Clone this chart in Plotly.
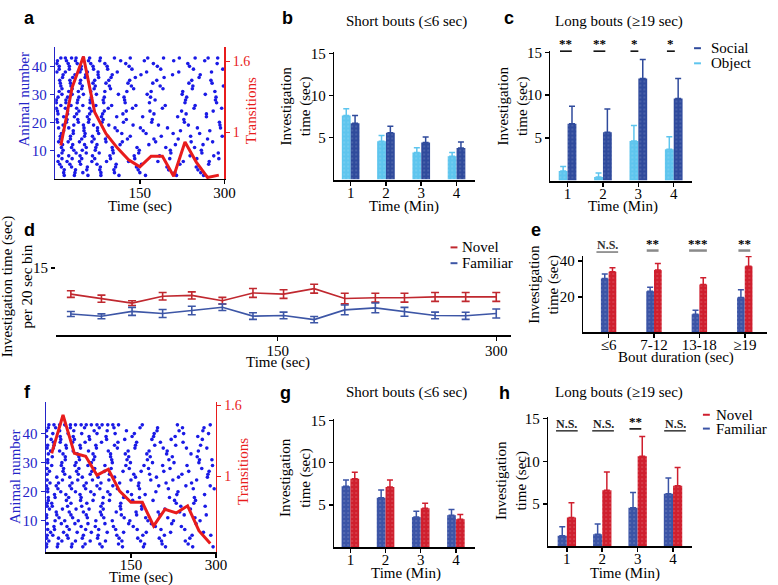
import plotly.graph_objects as go

W, H = 778, 585
def fx(p): return p / W
def fy(p): return 1 - p / H

SERIF = "Liberation Serif, Times New Roman, serif"
SANS = "Liberation Sans, Arial, sans-serif"
DOT = "#1a1ae6"
RAX = "#2424c8"
TRED = "#e81c1c"
OBJ = "#5ec5ee"
SOC = "#2f4a9c"
FAM = "#3b54a6"
NOV = "#cf1f2e"
NOV_LINE = "#c0282f"
FAM_LINE = "#3d56a6"

# ---------------- data ----------------
bins_sec = [10, 30, 50, 70, 90, 110, 130, 150, 170, 190, 210, 230, 250, 270, 290]
trans_a = [0.89, 1.38, 1.64, 1.17, 0.99, 0.87, 0.77, 0.71, 0.80, 0.80, 0.63, 0.92, 0.75, 0.62, 0.64]
trans_f = [1.195, 1.52, 1.195, 1.17, 1.01, 1.06, 0.875, 0.78, 0.78, 0.58, 0.72, 0.69, 0.75, 0.54, 0.43]

# event times per list; animal id of each list given in *_animal
raster_a = [
    [5, 22, 38, 61, 84, 120, 175, 232, 268],
    [12, 30, 47, 70, 98, 141, 203, 251, 290],
    [3, 18, 44, 57, 76, 110, 162, 219, 277],
    [9, 27, 52, 66, 93, 133, 188, 240, 296],
    [15, 35, 49, 81, 105, 150, 212, 258],
    [7, 24, 41, 63, 88, 127, 170, 226, 283],
    [11, 29, 55, 72, 101, 145, 196, 247],
    [4, 20, 36, 59, 79, 116, 158, 210, 265],
    [14, 33, 50, 68, 95, 138, 183, 236, 292],
    [8, 26, 45, 74, 108, 153, 221, 272],
    [2, 19, 39, 62, 86, 124, 167, 230, 286],
    [13, 31, 53, 77, 99, 142, 193, 255],
    [6, 23, 43, 65, 90, 119, 178, 241, 279],
    [16, 34, 58, 81, 113, 160, 215, 263],
    [10, 28, 48, 71, 96, 135, 186, 244, 298],
    [3, 21, 40, 60, 85, 126, 172, 228],
    [12, 37, 55, 78, 103, 148, 205, 260, 289],
    [7, 25, 46, 67, 92, 131, 181, 238],
    [15, 32, 51, 75, 110, 156, 222, 274],
    [5, 22, 42, 64, 87, 122, 169, 233, 285],
    [11, 29, 57, 80, 107, 144, 198, 250],
    [2, 18, 38, 61, 94, 137, 190, 246, 295],
    [9, 27, 47, 69, 89, 128, 175, 218, 270],
    [14, 35, 54, 76, 101, 152, 208, 257],
    [6, 24, 44, 66, 97, 140, 185, 239, 281],
    [12, 30, 50, 73, 112, 163, 225, 266],
    [4, 20, 41, 59, 83, 121, 171, 229, 291],
    [16, 36, 56, 79, 104, 147, 201, 253],
    [8, 26, 45, 70, 95, 132, 180, 242, 276],
    [13, 31, 52, 74, 115, 166, 213, 262],
    [3, 23, 39, 63, 88, 125, 174, 235, 287],
    [10, 28, 49, 72, 100, 143, 195, 248],
    [5, 21, 43, 65, 91, 130, 182, 227, 273],
    [15, 34, 57, 82, 109, 155, 217, 268],
    [7, 25, 46, 68, 93, 136, 187, 245, 297],
    [11, 32, 53, 77, 118, 161, 209, 256],
    [2, 19, 40, 62, 85, 123, 177, 231, 284],
    [14, 33, 48, 71, 102, 149, 204, 259],
    [9, 27, 44, 67, 90, 129, 173, 237, 278],
    [6, 24, 51, 75, 106, 151, 199, 252, 293],
    [12, 30, 47, 69, 98, 139, 191, 243],
    [4, 22, 42, 64, 87, 126, 168, 224, 280],
    [10, 18, 29, 37, 50, 61, 80, 105, 133, 164, 192, 220, 248, 271, 288],
]
raster_a_animal = [23, 7, 38, 15, 2, 31, 11, 42, 19, 5, 27, 36, 13, 1, 33, 21, 9, 40, 17, 29, 4, 25,
                   14, 37, 8, 30, 20, 3, 35, 12, 41, 26, 6, 22, 39, 16, 28, 10, 34, 18, 32, 24, 43]

raster_f = [
    [1, 19, 44, 71, 98, 133, 160, 201, 244, 283],
    [3, 28, 53, 80, 117, 149, 188, 226, 270],
    [2, 12, 37, 66, 92, 125, 171, 209, 258, 291],
    [1, 24, 49, 85, 108, 142, 196, 235, 277],
    [4, 16, 40, 62, 101, 137, 165, 218, 262],
    [2, 33, 57, 78, 112, 155, 183, 240, 286],
    [1, 21, 46, 69, 95, 128, 174, 205, 251],
    [3, 14, 35, 60, 88, 121, 158, 192, 229, 273],
    [2, 27, 51, 74, 104, 146, 186, 222, 265],
    [1, 18, 42, 67, 90, 118, 163, 199, 247, 290],
    [4, 30, 55, 83, 114, 140, 178, 213, 256],
    [2, 11, 38, 63, 97, 131, 169, 238, 281],
    [1, 25, 48, 76, 106, 152, 190, 228, 268],
    [3, 15, 41, 70, 93, 123, 161, 203, 245],
    [2, 31, 58, 86, 115, 147, 181, 219, 275],
    [1, 20, 45, 65, 99, 135, 172, 211, 259, 295],
    [3, 26, 52, 79, 109, 144, 194, 233],
    [2, 13, 36, 61, 89, 126, 157, 207, 248, 284],
    [1, 23, 47, 73, 102, 138, 176, 215, 263],
    [4, 17, 43, 68, 94, 120, 166, 197, 241, 279],
    [2, 29, 56, 82, 111, 150, 185, 224, 266],
    [1, 22, 39, 64, 91, 129, 162, 200, 254],
    [3, 34, 59, 84, 116, 143, 179, 217, 271, 293],
    [2, 10, 44, 72, 100, 132, 170, 230, 261],
    [9, 26, 50, 77, 107, 139, 187, 221, 276],
    [14, 37, 62, 87, 119, 154, 193, 239],
    [6, 30, 54, 81, 103, 136, 168, 208, 252, 288],
    [18, 41, 66, 96, 124, 159, 198, 236],
    [8, 24, 48, 75, 110, 145, 182, 214, 269],
    [15, 35, 60, 85, 113, 151, 175, 231, 280],
    [5, 28, 52, 78, 105, 134, 167, 204, 246],
    [12, 39, 63, 90, 122, 156, 191, 243, 287],
    [7, 22, 46, 71, 97, 130, 164, 212, 257],
    [16, 33, 57, 88, 117, 148, 180, 225, 272],
    [10, 27, 51, 74, 104, 141, 173, 206, 249, 294],
    [4, 36, 61, 83, 112, 153, 189, 227, 264],
    [13, 25, 47, 69, 98, 127, 160, 202, 242],
    [8, 31, 55, 80, 108, 137, 177, 220, 278],
    [19, 42, 64, 92, 121, 158, 195, 234, 285],
    [6, 29, 53, 76, 101, 132, 169, 210, 255],
    [11, 34, 58, 86, 114, 146, 184, 223, 267],
    [3, 21, 45, 70, 95, 126, 165, 216, 260, 297],
    [5, 14, 24, 33, 43, 52, 62, 71, 80, 90, 99, 109, 118, 128, 170, 232, 290],
]
raster_f_animal = [12, 30, 5, 41, 18, 26, 2, 36, 9, 22, 33, 15, 39, 7, 28, 1, 20, 35, 11, 42, 24, 4,
                   31, 16, 38, 8, 27, 13, 34, 19, 3, 40, 23, 10, 29, 17, 37, 6, 25, 14, 32, 21, 43]

minutes = [1, 2, 3, 4]
b_object = [7.6, 4.55, 3.23, 2.76]
b_object_err = [0.8, 0.7, 0.54, 0.47]
b_social = [6.7, 5.56, 4.4, 3.74]
b_social_err = [0.9, 0.78, 0.66, 0.73]

c_object = [1.12, 0.42, 4.63, 3.67]
c_object_err = [0.54, 0.47, 1.82, 1.47]
c_social = [6.64, 5.64, 11.93, 9.61]
c_social_err = [2.05, 2.74, 2.24, 2.32]
c_sig = ["**", "**", "*", "*"]

d_time = [8, 29, 50, 71, 91, 112, 133, 154, 175, 196, 217, 237, 258, 279, 300]
d_novel = [9.09, 8.06, 7.06, 8.61, 8.8, 7.61, 9.35, 9.09, 10.31, 8.09, 8.28, 8.28, 8.46, 8.46, 8.46]
d_novel_err = [0.74, 0.8, 0.55, 0.85, 0.8, 0.74, 1.0, 0.96, 1.0, 1.2, 1.0, 1.0, 1.0, 1.0, 1.0]
d_fam = [4.62, 4.1, 5.21, 4.73, 5.4, 6.13, 4.14, 4.29, 3.36, 5.54, 5.99, 5.1, 4.29, 4.21, 4.73]
d_fam_err = [0.55, 0.55, 0.9, 0.9, 0.96, 0.74, 0.74, 0.74, 0.7, 1.1, 1.1, 1.0, 0.74, 0.8, 1.0]

bout_bins = ["≤6", "7-12", "13-18", "≥19"]
e_fam = [30.2, 23.1, 10.2, 19.6]
e_fam_err = [2.6, 2.3, 2.2, 4.3]
e_nov = [34.1, 35.0, 26.9, 37.2]
e_nov_err = [2.2, 3.7, 3.8, 5.4]
e_sig = ["N.S.", "**", "***", "**"]

g_fam = [7.2, 5.84, 3.58, 3.77]
g_fam_err = [0.74, 0.93, 0.66, 0.67]
g_nov = [8.1, 7.12, 4.59, 3.31]
g_nov_err = [0.77, 0.82, 0.59, 0.54]

h_fam = [1.27, 1.43, 4.56, 6.2]
h_fam_err = [1.05, 1.2, 1.77, 1.83]
h_nov = [3.4, 6.6, 10.6, 7.14]
h_nov_err = [1.74, 2.13, 2.3, 2.13]
h_sig = ["N.S.", "N.S.", "**", "N.S."]

# ---------------- figure ----------------
fig = go.Figure()

def rows_to_xy(rows, animals):
    xs, ys = [], []
    for r, a in zip(rows, animals):
        xs += r
        ys += [a] * len(r)
    return xs, ys

for rows, animals, trans, xa, ya, ya2 in [(raster_a, raster_a_animal, trans_a, "x", "y", "y2"),
                                          (raster_f, raster_f_animal, trans_f, "x6", "y7", "y8")]:
    xs, ys = rows_to_xy(rows, animals)
    fig.add_trace(go.Scatter(x=xs, y=ys, mode="markers", marker=dict(size=3.6, color=DOT),
                             xaxis=xa, yaxis=ya, showlegend=False, hoverinfo="skip"))
    fig.add_trace(go.Scatter(x=bins_sec, y=trans, mode="lines", line=dict(color=TRED, width=3),
                             xaxis=xa, yaxis=ya2, showlegend=False))

def bar(xax, yax, cats, vals, errs, color, left, width):
    return go.Bar(x=cats, y=vals, width=width, offset=(-width if left else 0.0),
                  marker=dict(color=color, line=dict(width=0),
                              pattern=dict(shape=".", fgcolor="rgba(255,255,255,0.6)", size=4, solidity=0.12)),
                  error_y=dict(type="data", array=errs, arrayminus=[0] * len(errs), symmetric=False,
                               color=color, thickness=1.5, width=3),
                  xaxis=xax, yaxis=yax, showlegend=False)

fig.add_trace(bar("x2", "y3", minutes, b_object, b_object_err, OBJ, True, 0.25))
fig.add_trace(bar("x2", "y3", minutes, b_social, b_social_err, SOC, False, 0.25))
fig.add_trace(bar("x3", "y4", minutes, c_object, c_object_err, OBJ, True, 0.25))
fig.add_trace(bar("x3", "y4", minutes, c_social, c_social_err, SOC, False, 0.25))
ecats = [1, 2, 3, 4]
fig.add_trace(bar("x5", "y6", ecats, e_fam, e_fam_err, FAM, True, 0.17))
fig.add_trace(bar("x5", "y6", ecats, e_nov, e_nov_err, NOV, False, 0.17))
fig.add_trace(bar("x7", "y9", minutes, g_fam, g_fam_err, FAM, True, 0.25))
fig.add_trace(bar("x7", "y9", minutes, g_nov, g_nov_err, NOV, False, 0.25))
fig.add_trace(bar("x8", "y10", minutes, h_fam, h_fam_err, FAM, True, 0.26))
fig.add_trace(bar("x8", "y10", minutes, h_nov, h_nov_err, NOV, False, 0.26))

for vals, errs, col in [(d_novel, d_novel_err, NOV_LINE), (d_fam, d_fam_err, FAM_LINE)]:
    fig.add_trace(go.Scatter(x=d_time, y=vals, mode="lines", line=dict(color=col, width=1.6),
                             error_y=dict(type="data", array=errs, color=col, thickness=1.6, width=4),
                             xaxis="x4", yaxis="y5", showlegend=False))

def ax(domain, rng, tickvals, anchor, ticktext=None, color="black", lw=1.5, showline=True, fsize=15, **kw):
    d = dict(domain=domain, range=rng, tickvals=tickvals, anchor=anchor, showgrid=False, zeroline=False,
             showline=showline, linecolor=color, linewidth=lw, ticks="outside", ticklen=4, tickwidth=1.5,
             tickcolor=color, tickfont=dict(family=SERIF, size=fsize, color=color), fixedrange=True)
    if ticktext is not None:
        d["ticktext"] = ticktext
    d.update(kw)
    return d

layout = dict(
    width=W, height=H, margin=dict(l=0, r=0, t=0, b=0), paper_bgcolor="white", plot_bgcolor="rgba(0,0,0,0)",
    barmode="overlay", showlegend=False,
    # a
    xaxis=ax([fx(56), fx(227.7)], [0, 300], [150, 300], "y", ticklabelstandoff=-4),
    yaxis=ax([fy(174), fy(40)], [-0.25, 47.1], [10, 20, 30, 40], "x", color=RAX),
    yaxis2=ax(None, [0.608, 1.725], [1, 1.6], "x", ticktext=["1", "1.6"], color=TRED, overlaying="y",
              side="right", fsize=14),
    # b
    xaxis2=ax([fx(339), fx(481.7)], [0.534, 4.52], minutes, "y3", lw=2, ticklabelstandoff=-6),
    yaxis3=ax([fy(174.7), fy(46)], [0, 15.1], [5, 10, 15], "x2"),
    # c
    xaxis3=ax([fx(558.3), fx(701.7)], [0.515, 4.51], minutes, "y4", lw=2, ticklabelstandoff=-6),
    yaxis4=ax([fy(175.7), fy(45)], [0, 15.1], [5, 10, 15], "x3"),
    # d
    xaxis4=ax([fx(56.8), fx(518.3)], [-2.2, 310.1], [150, 300], "y5", lw=2, ticklabelstandoff=-3),
    yaxis5=ax([fy(331.5), fy(250)], [0, 18.1], [15], "x4", showline=False),
    # e
    xaxis5=ax([fx(591.7), fx(778)], [0.443, 4.49], ecats, "y6", ticktext=bout_bins, lw=2, ticklabelstandoff=-6),
    yaxis6=ax([fy(329.3), fy(252)], [0, 42.9], [20, 40], "x5"),
    # f
    xaxis6=ax([fx(46.7), fx(219)], [0, 300], [150, 300], "y7", ticklabelstandoff=-6),
    yaxis7=ax([fy(551.7), fy(400)], [-0.8, 50.8], [10, 20, 30, 40], "x6", color=RAX),
    yaxis8=ax(None, [0.358, 1.628], [1, 1.6], "x6", ticktext=["1", "1.6"], color=TRED, overlaying="y7",
              side="right", fsize=14),
    # g
    xaxis7=ax([fx(339), fx(481.7)], [0.54, 4.54], minutes, "y9", lw=2, ticklabelstandoff=-6),
    yaxis9=ax([fy(546.7), fy(417)], [0, 15.15], [5, 10, 15], "x7"),
    # h
    xaxis8=ax([fx(556), fx(701.7)], [0.471, 4.53], minutes, "y10", lw=2, ticklabelstandoff=-6),
    yaxis10=ax([fy(546), fy(415)], [0, 15.2], [5, 10, 15], "x8"),
)
for k in ("yaxis2", "yaxis8"):
    layout[k].pop("domain")

ann = []
shapes = []
def txt(x, y, s, size=15, color="black", angle=0, family=SERIF, xanchor="center"):
    ann.append(dict(x=fx(x), y=fy(y), xref="paper", yref="paper", text=s, showarrow=False,
                    font=dict(family=family, size=size, color=color), textangle=angle,
                    xanchor=xanchor, yanchor="middle"))
def seg(x0, x1, y, color="black", w=1.5):
    shapes.append(dict(type="line", xref="paper", yref="paper", x0=fx(x0), x1=fx(x1), y0=fy(y), y1=fy(y),
                       line=dict(color=color, width=w)))

# panel letters
for L, x, y in [("a", 30, 11), ("b", 292, 11), ("c", 516, 11), ("d", 30, 226), ("e", 544, 226),
                ("f", 28, 390), ("g", 290, 391), ("h", 512, 391)]:
    txt(x, y, "<b>%s</b>" % L, size=18, family=SANS)

# titles
txt(412, 15, "Short bouts (≤6 sec)")
txt(628, 15, "Long bouts (≥19 sec)")
txt(412, 390, "Short bouts (≤6 sec)")
txt(628, 390, "Long bouts (≥19 sec)")

# axis titles
INV = "Investigation<br>time (sec)"
txt(24, 93, "Animal number", color=RAX, angle=-90)
txt(254, 105, "Transitions", color=TRED, angle=-90)
txt(141.7, 202, "Time (sec)")
txt(301, 100, INV, angle=-90)
txt(410, 202, "Time (Min)")
txt(521, 100, INV, angle=-90)
txt(632, 202, "Time (Min)")
txt(17, 283, "Investigation time (sec)<br>per 20 sec bin", angle=-90)
txt(281.7, 360, "Time (sec)")
txt(552, 281, INV, angle=-90)
txt(685.8, 355, "Bout duration (sec)")
txt(16, 475, "Animal number", color=RAX, angle=-90)
txt(247, 470, "Transitions", color=TRED, angle=-90)
txt(143, 577, "Time (sec)")
txt(300, 476, INV, angle=-90)
txt(411.7, 573, "Time (Min)")
txt(519, 479, INV, angle=-90)
txt(634, 573, "Time (Min)")

# legends
def legend_item(xd, xt, y, color, label):
    seg(xd, xd + 7, y, color=color, w=2)
    txt(xt, y, label, xanchor="left")
legend_item(704, 719, 41.7, SOC, "Social")
legend_item(704, 719, 57, OBJ, "Object")
legend_item(457, 467, 243.3, NOV_LINE, "Novel")
legend_item(457, 467, 259.3, FAM_LINE, "Familiar")
legend_item(713, 724, 412.7, NOV, "Novel")
legend_item(713, 724, 426.7, FAM, "Familiar")

# significance marks
c_x = [574, 608, 643.5, 680.5]
for s, x in zip(c_sig, c_x):
    txt(x, 37, "<b>%s</b>" % s, size=13)
    hw = 6 if len(s) == 2 else 4
    seg(x - hw, x + hw, 44.7, w=1.5)

e_x = [616, 662, 708, 755]
for s, x in zip(e_sig, e_x):
    if s == "N.S.":
        txt(x, 241, "<b>N.S.</b>", size=12, color="#333333")
        seg(x - 11, x + 11, 248, color="#555555", w=1.2)
    else:
        txt(x, 239, "<b>%s</b>" % s, size=13)
        hw = 6 + 3 * (len(s) - 2)
        seg(x - hw, x + hw, 246.5, color="#8a8a8a", w=2.5)

h_x = [575, 611.7, 644.5, 684.7]
for s, x in zip(h_sig, h_x):
    if s == "N.S.":
        txt(x, 422, "<b>N.S.</b>", size=12, color="#222222")
        seg(x - 11, x + 11, 429, w=1.2)
    else:
        txt(x, 420, "<b>%s</b>" % s, size=13)
        seg(x - 6, x + 6, 427, w=1.5)

layout["annotations"] = ann
layout["shapes"] = shapes
fig.update_layout(**layout)
fig.write_html("out.html", config={"displayModeBar": False, "staticPlot": True},
               post_script="document.body.style.margin='0px';document.body.style.overflow='hidden';")
